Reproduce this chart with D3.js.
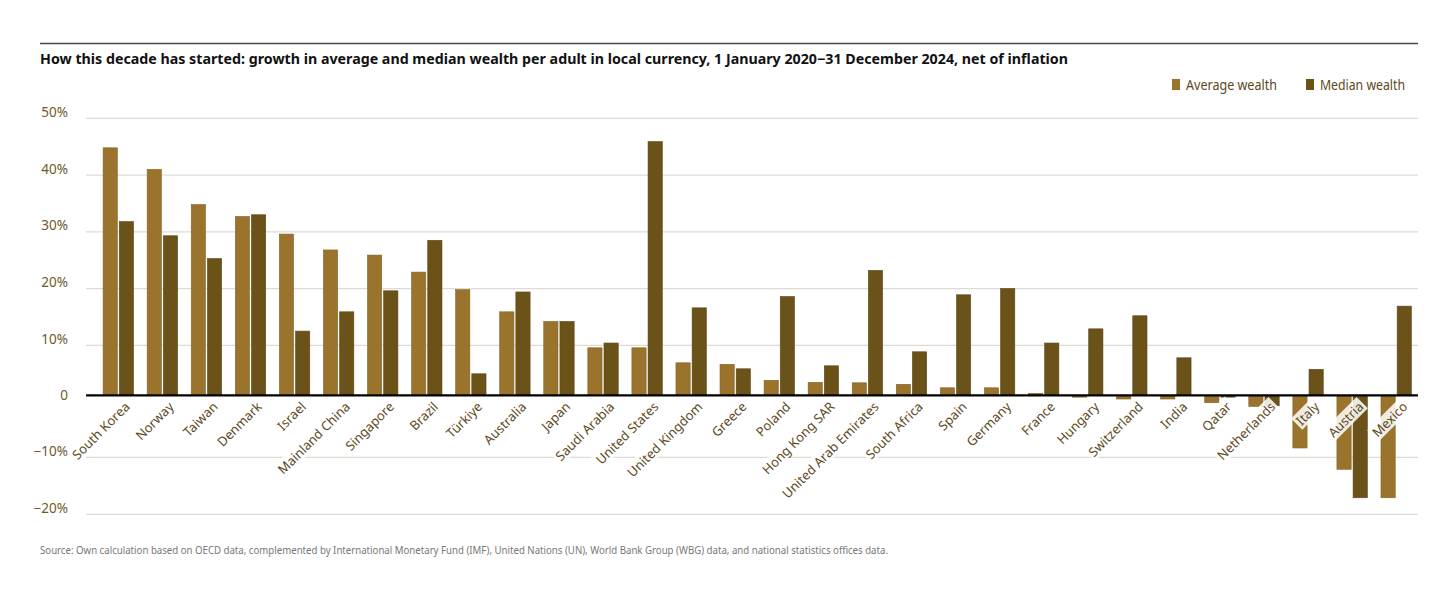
<!DOCTYPE html>
<html>
<head>
<meta charset="utf-8">
<script src="https://cdn.jsdelivr.net/npm/d3@7"></script>
<style>
  body { margin: 0; background: #fff; }
  svg { display: block; font-family: "Noto Sans", "Open Sans", sans-serif; }
</style>
</head>
<body>
<svg id="chart" width="1456" height="592"></svg>
<script>
var countries = ["South Korea", "Norway", "Taiwan", "Denmark", "Israel", "Mainland China", "Singapore",
  "Brazil", "Türkiye", "Australia", "Japan", "Saudi Arabia", "United States", "United Kingdom", "Greece",
  "Poland", "Hong Kong SAR", "United Arab Emirates", "South Africa", "Spain", "Germany", "France",
  "Hungary", "Switzerland", "India", "Qatar", "Netherlands", "Italy", "Austria", "Mexico"];

// growth in %
var averageWealth = [44.8, 41.0, 34.8, 32.7, 29.6, 26.8, 25.9, 22.9, 19.8, 15.9, 14.2, 9.5, 9.5, 6.5, 6.2,
  3.0, 2.6, 2.5, 2.2, 1.5, 1.5, 0.4, -0.3, -0.6, -0.6, -1.2, -1.8, -8.5, -12.1, -17.1];
var medianWealth = [31.8, 29.3, 25.3, 33.0, 12.5, 15.9, 19.6, 28.5, 4.3, 19.4, 14.2, 10.4, 45.9, 16.6, 5.3,
  18.6, 5.9, 23.2, 8.7, 18.9, 20.0, 10.4, 12.9, 15.2, 7.5, -0.3, -1.7, 5.2, -17.1, 16.9];

var seriesNames = ["Average wealth", "Median wealth"];
var yTicks = [-20, -10, 0, 10, 20, 30, 40, 50];

var title = "How this decade has started: growth in average and median wealth per adult in local currency, 1 January 2020\u221231 December 2024, net of inflation";
var source = "Source: Own calculation based on OECD data, complemented by International Monetary Fund (IMF), United Nations (UN), World Bank Group (WBG) data, and national statistics offices data.";

var colors = ["#9a732d", "#6b5219"];

var svg = d3.select("#chart");

// top rule + title
svg.append("line")
    .attr("x1", 40).attr("x2", 1418)
    .attr("y1", 43.5).attr("y2", 43.5)
    .attr("stroke", "#4a4a4a").attr("stroke-width", 1.3);

svg.append("text")
    .attr("x", 40).attr("y", 64)
    .attr("font-size", 14).attr("font-weight", "bold")
    .attr("fill", "#111")
    .attr("textLength", 1028).attr("lengthAdjust", "spacingAndGlyphs")
    .text(title);

// the picture's gridlines are not evenly spaced around zero, so the scale follows them
var y = d3.scaleLinear()
    .domain([-20, -10, 0, 10, 50])
    .range([514.3, 457.3, 395.3, 345.3, 118.3]);

var x0 = d3.scaleBand()
    .domain(countries)
    .range([96.5, 1418])
    .paddingInner(0.31)
    .paddingOuter(0.15);

var x1 = d3.scaleBand()
    .domain(seriesNames)
    .range([0, x0.bandwidth()])
    .paddingInner(0.12);

// gridlines
svg.append("g").selectAll("line")
    .data(yTicks.filter(function(d) { return d !== 0; }))
    .enter().append("line")
    .attr("x1", 86).attr("x2", 1418)
    .attr("y1", function(d) { return y(d); })
    .attr("y2", function(d) { return y(d); })
    .attr("stroke", "#dedbd3").attr("stroke-width", 1.2);

// y labels
svg.append("g").selectAll("text")
    .data(yTicks)
    .enter().append("text")
    .attr("x", 68)
    .attr("y", function(d) { return d === 0 ? y(d) + 4.5 : y(d) - 1.5; })
    .attr("text-anchor", "end")
    .attr("font-size", 13.5)
    .attr("fill", "#6e5a26")
    .text(function(d) { return d === 0 ? "0" : (d < 0 ? "\u2212" : "") + Math.abs(d) + "%"; });

// bars
var groups = svg.append("g").selectAll("g")
    .data(countries)
    .enter().append("g")
    .attr("transform", function(d) { return "translate(" + x0(d) + ",0)"; });

groups.selectAll("rect")
    .data(function(d, i) { return [averageWealth[i], medianWealth[i]]; })
    .enter().append("rect")
    .attr("x", function(d, j) { return x1(seriesNames[j]); })
    .attr("width", x1.bandwidth())
    .attr("y", function(d) { return y(Math.max(0, d)); })
    .attr("height", function(d) { return Math.abs(y(d) - y(0)); })
    .attr("fill", function(d, j) { return colors[j]; })
    .attr("stroke", function(d, j) { return d3.color(colors[j]).darker(0.4); })
    .attr("stroke-width", 0.6);

// zero line
svg.append("line")
    .attr("x1", 86).attr("x2", 1418)
    .attr("y1", y(0)).attr("y2", y(0))
    .attr("stroke", "#000").attr("stroke-width", 2.2);

// category labels, rotated, with a soft white box behind
var labels = svg.append("g").selectAll("g")
    .data(countries)
    .enter().append("g")
    .attr("transform", function(d) {
      return "translate(" + (x0(d) + x0.bandwidth() / 2 + 9) + "," + (y(0) + 9) + ") rotate(-45)";
    });

labels.append("rect").attr("class", "bg");
labels.append("text")
    .attr("text-anchor", "end")
    .attr("dy", "0.35em")
    .attr("font-size", 13)
    .attr("fill", "#5c4820")
    .text(String);

labels.each(function() {
  var g = d3.select(this);
  var b = g.select("text").node().getBBox();
  g.select("rect")
      .attr("x", b.x - 2).attr("y", b.y + 1)
      .attr("width", b.width + 4).attr("height", b.height - 2)
      .attr("fill", "#fff").attr("fill-opacity", 0.86);
});

// legend
var legendX = [1172, 1306];
var legendW = [91, 85];
var legend = svg.append("g").selectAll("g")
    .data(seriesNames)
    .enter().append("g")
    .attr("transform", function(d, i) { return "translate(" + legendX[i] + ",0)"; });

legend.append("rect")
    .attr("x", 0).attr("y", 79)
    .attr("width", 8).attr("height", 11)
    .attr("fill", function(d, i) { return colors[i]; });

legend.append("text")
    .attr("x", 14).attr("y", 89.5)
    .attr("font-size", 14)
    .attr("fill", "#5c4820")
    .attr("textLength", function(d, i) { return legendW[i]; })
    .attr("lengthAdjust", "spacingAndGlyphs")
    .text(String);

// source
svg.append("text")
    .attr("x", 40).attr("y", 554)
    .attr("font-size", 10.5)
    .attr("fill", "#777")
    .attr("textLength", 848).attr("lengthAdjust", "spacingAndGlyphs")
    .text(source);
</script>
</body>
</html>
